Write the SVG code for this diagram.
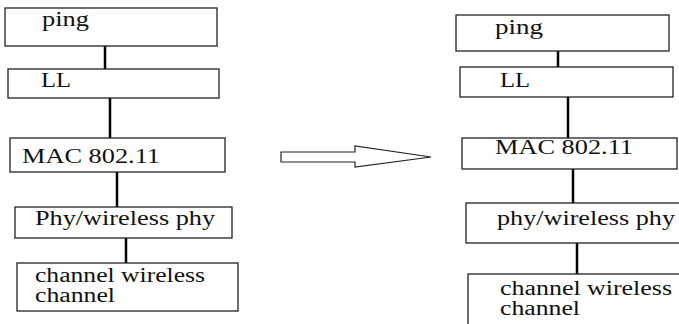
<svg xmlns="http://www.w3.org/2000/svg" width="679" height="324" viewBox="0 0 679 324">
<style>
.box{fill:#fff;stroke:#222;stroke-width:1.3}
.lbl{font-family:"Liberation Serif","Times New Roman",serif;font-size:20px;fill:#111}
.con{stroke:#000;stroke-width:2.5;fill:none}
</style>
<rect width="679" height="324" fill="#fff"/>
<g id="connectors">
<line class="con" x1="105" y1="46" x2="105" y2="69"/>
<line class="con" x1="110" y1="98" x2="110" y2="138"/>
<line class="con" x1="117" y1="172" x2="117" y2="207"/>
<line class="con" x1="126" y1="238" x2="126" y2="263"/>
<line class="con" x1="558" y1="48" x2="558" y2="72"/>
<line class="con" x1="568" y1="97" x2="568" y2="143"/>
<line class="con" x1="573" y1="169" x2="573" y2="205"/>
<line class="con" x1="577" y1="243" x2="577" y2="274"/>
<polygon points="281,152 355,152 355,146 431,157 355,167 355,162 281,162" fill="#fff" stroke="#222" stroke-width="1.2"/>
</g>
<g id="l-ping"><rect class="box" x="5" y="8" width="212" height="38"/><text class="lbl" x="42" y="26" textLength="47" lengthAdjust="spacingAndGlyphs">ping</text></g>
<g id="l-ll"><rect class="box" x="8" y="69" width="211" height="29"/><text class="lbl" x="41" y="87" textLength="30" lengthAdjust="spacingAndGlyphs">LL</text></g>
<g id="l-mac"><rect class="box" x="10" y="138" width="215" height="34"/><text class="lbl" x="22" y="163" textLength="138" lengthAdjust="spacingAndGlyphs">MAC 802.11</text></g>
<g id="l-phy"><rect class="box" x="15" y="207" width="217" height="31"/><text class="lbl" x="35" y="225" textLength="180" lengthAdjust="spacingAndGlyphs">Phy/wireless phy</text></g>
<g id="l-chan"><rect class="box" x="17" y="263" width="221" height="48"/><text class="lbl" x="35" y="282" textLength="170" lengthAdjust="spacingAndGlyphs">channel wireless</text><text class="lbl" x="35" y="302" textLength="80" lengthAdjust="spacingAndGlyphs">channel</text></g>
<g id="r-ping"><rect class="box" x="456" y="15" width="213" height="36"/><text class="lbl" x="495" y="34" textLength="48" lengthAdjust="spacingAndGlyphs">ping</text></g>
<g id="r-ll"><rect class="box" x="460" y="67" width="213" height="30"/><text class="lbl" x="500" y="87" textLength="30" lengthAdjust="spacingAndGlyphs">LL</text></g>
<g id="r-mac"><rect class="box" x="462" y="138" width="215" height="31"/><text class="lbl" x="495" y="154" textLength="138" lengthAdjust="spacingAndGlyphs">MAC 802.11</text></g>
<g id="r-phy"><rect class="box" x="466" y="203" width="222" height="40"/><text class="lbl" x="497" y="225" textLength="178" lengthAdjust="spacingAndGlyphs">phy/wireless phy</text></g>
<g id="r-chan"><rect class="box" x="468" y="274" width="222" height="60"/><text class="lbl" x="500" y="295" textLength="172" lengthAdjust="spacingAndGlyphs">channel wireless</text><text class="lbl" x="500" y="315" textLength="80" lengthAdjust="spacingAndGlyphs">channel</text></g>
</svg>
